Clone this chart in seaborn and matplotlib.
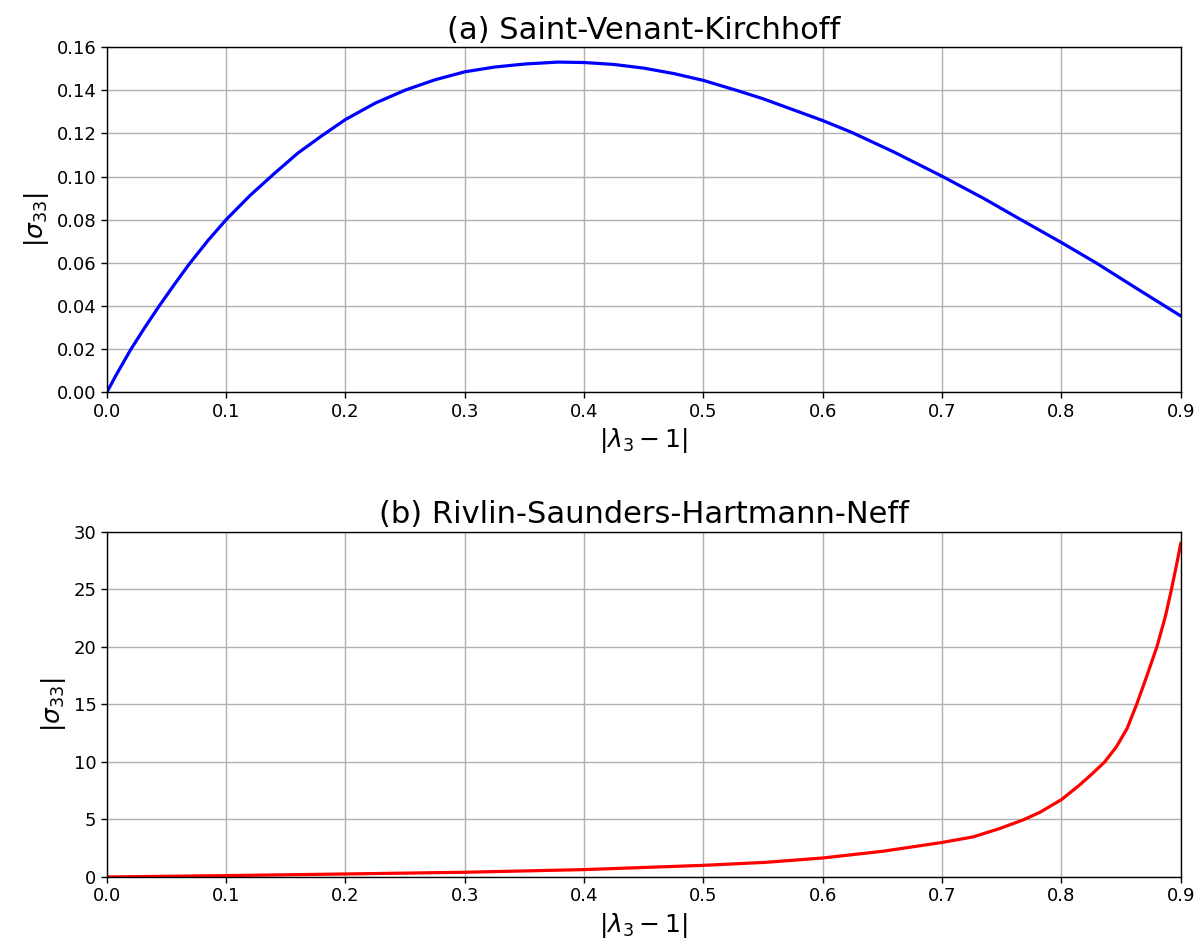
import seaborn as sns
import matplotlib
matplotlib.use("Agg")
import matplotlib.pyplot as plt
import pandas as pd

# values
stretch_svk = [0.0, 0.008, 0.020, 0.032, 0.044, 0.057, 0.069, 0.085, 0.100,
               0.120, 0.140, 0.160, 0.180, 0.200, 0.225, 0.250, 0.275,
               0.300, 0.325, 0.350, 0.378, 0.400, 0.425, 0.450, 0.475, 0.500,
               0.529, 0.550, 0.600, 0.624, 0.659, 0.700, 0.735, 0.766, 0.800,
               0.829, 0.864, 0.900]
sigma_svk = [0.0, 0.0082, 0.0198, 0.0302, 0.0401, 0.0503, 0.0594, 0.0705, 0.0800,
             0.0912, 0.1012, 0.1108, 0.1188, 0.1264, 0.1340, 0.1400, 0.1448,
             0.1485, 0.1507, 0.1521, 0.1530, 0.1528, 0.1519, 0.1502, 0.1477, 0.1445,
             0.1397, 0.1360, 0.1259, 0.1205, 0.1115, 0.1001, 0.0898, 0.0800, 0.0694,
             0.0600, 0.0478, 0.0354]

stretch_rshn = [0.0, 0.1, 0.2, 0.3, 0.4, 0.5, 0.552, 0.6, 0.650, 0.678, 0.700,
                0.726, 0.748, 0.768, 0.782, 0.800, 0.815, 0.826, 0.836, 0.846,
                0.855, 0.863, 0.871, 0.880, 0.887, 0.892, 0.897, 0.900]
sigma_rshn = [0.0, 0.12, 0.26, 0.41, 0.64, 1.01, 1.27, 1.65, 2.23, 2.66, 3.00,
              3.48, 4.20, 4.96, 5.62, 6.72, 7.97, 8.99, 9.97, 11.30,
              12.90, 14.99, 17.30, 20.00, 22.60, 24.90, 27.40, 29.00]

titles = ["(a) Saint-Venant-Kirchhoff", "(b) Rivlin-Saunders-Hartmann-Neff"]

sns.set_theme(style="ticks", rc={"axes.grid": True, "grid.color": "#b0b0b0",
                                 "grid.linewidth": 1.0,
                                 "axes.edgecolor": "black", "axes.linewidth": 1.0,
                                 "xtick.color": "black", "ytick.color": "black",
                                 "text.color": "black", "axes.labelcolor": "black"})
plt.rcParams["font.family"] = ["DejaVu Sans"]
plt.rcParams["mathtext.fontset"] = "dejavusans"

fig, axes = plt.subplots(2, 1, figsize=(12, 9.49), dpi=100)
plt.subplots_adjust(left=0.089, right=0.984, top=0.9505, bottom=0.0759, hspace=0.403)

df_a = pd.DataFrame({"x": stretch_svk, "y": sigma_svk})
df_b = pd.DataFrame({"x": stretch_rshn, "y": sigma_rshn})

sns.lineplot(data=df_a, x="x", y="y", ax=axes[0], color="blue", linewidth=2.3,
             estimator=None, sort=False)
sns.lineplot(data=df_b, x="x", y="y", ax=axes[1], color="red", linewidth=2.3,
             estimator=None, sort=False)

axes[0].set_ylim(0, 0.16)
axes[1].set_ylim(0, 30)
for ax, t in zip(axes, titles):
    ax.set_xlim(0, 0.9)
    ax.set_title(t, fontsize=22, color="black")
    ax.set_xlabel(r"$|\lambda_3 - 1|$", fontsize=18)
    ax.set_ylabel(r"$|\sigma_{33}|$", fontsize=18)
    ax.tick_params(labelsize=13, length=4, width=1)

plt.savefig("out.png", dpi=100)
plt.close()
